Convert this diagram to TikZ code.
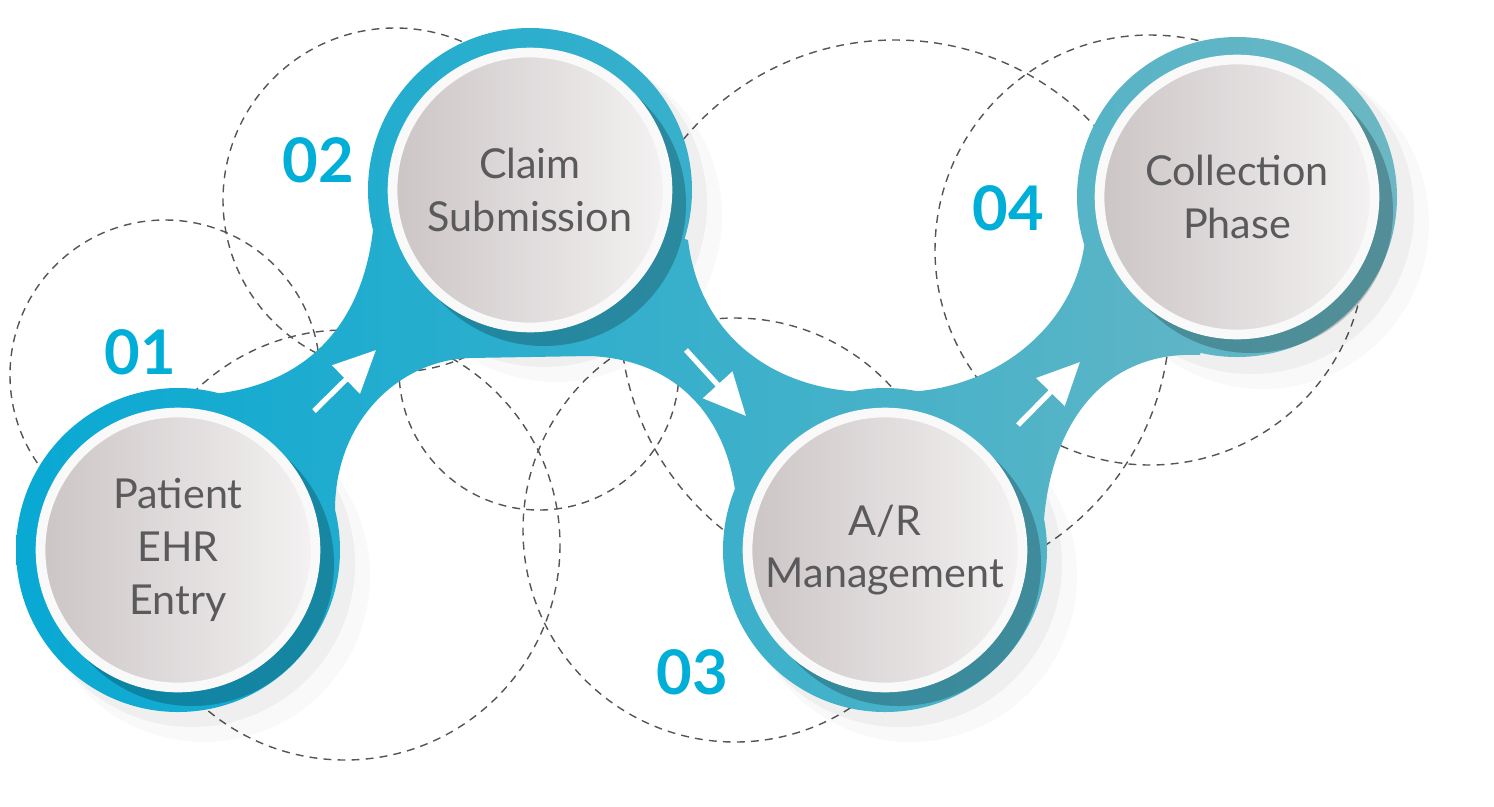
\documentclass[tikz,border=0pt]{standalone}
\usepackage{fontspec}
\setmainfont{Lato}
\usetikzlibrary{arrows.meta}
\definecolor{tA}{HTML}{08A9D3}
\definecolor{tB}{HTML}{6CB7C3}
\definecolor{num}{HTML}{00AFD8}
\definecolor{txt}{HTML}{5A5A5C}
\definecolor{gL}{HTML}{CCC5C6}
\definecolor{gR}{HTML}{F4F2F2}
\definecolor{dsh}{HTML}{555555}
\tikzset{
  dcirc/.style={draw=dsh, line width=0.8pt, dash pattern=on 4.5pt off 3.5pt},
  disc/.style={circle, minimum size=5.5cm, inner sep=0pt, left color=gL, right color=gR,
     draw=white!95!gray, line width=5.5pt, text=txt, align=center,
     font=\fontsize{23.5}{30}\selectfont},
  num/.style={text=num, font=\fontsize{35}{35}\selectfont\bfseries},
  arr/.style={draw=white, line width=3pt, -{Triangle[length=24pt,width=22pt]}},
}
\begin{document}
\begin{tikzpicture}[x=0.02cm,y=-0.02cm]
\useasboundingbox (0,0) rectangle (1494,806);
% dashed background circles
\draw[dcirc] (165,375) circle (155);
\draw[dcirc] (395,200) circle (172);
\draw[dcirc] (539,370) circle (140);
\draw[dcirc] (345,545) circle (215);
\draw[dcirc] (735,530) circle (212);
\draw[dcirc] (895,315) circle (275);
\draw[dcirc] (1150,250) circle (215);
% soft shadows
\foreach \cx/\cy in {178/550,530/190,885/550,1237/197}{
  \fill[black,opacity=0.025] (\cx+26,\cy+26) circle (166);
  \fill[black,opacity=0.04] (\cx+14,\cy+14) circle (163);
}
% teal band
\shade[left color=tA, right color=tB]
  (178,550) circle (162)
  (530,190) circle (162)
  (885,550) circle (162)
  (1237,197) circle (160)
  (200,395) .. controls (300,390) and (365,330) .. (374,220) -- (530,190)
     -- (470,358) .. controls (400,360) and (335,420) .. (335,510) -- (178,550) -- cycle
  (688,240) .. controls (700,340) and (780,395) .. (880,392) -- (885,550)
     -- (735,490) .. controls (725,420) and (680,360) .. (590,356) -- (470,358) -- (530,190) -- cycle
  (900,392) .. controls (990,392) and (1075,330) .. (1085,240) -- (1237,197)
     -- (1200,355) .. controls (1100,350) and (1045,430) .. (1043,540) -- (885,550) -- cycle;
% inner shadows on rings
\foreach \cx/\cy in {178/550,530/190,885/550,1237/197}{
  \begin{scope}
    \clip (\cx,\cy) circle (162);
    \fill[black,opacity=0.22] (\cx+14,\cy+14) circle (142);
  \end{scope}
}
% discs
\node[disc] (c1) at (178,550) {Patient\\EHR\\Entry};
\node[disc] (c2) at (530,190) {Claim\\Submission};
\node[disc] (c3) at (885,550) {A/R\\Management};
\node[disc] (c4) at (1237,197) {Collection\\Phase};
% numbers
\node[num] (n1) at (140,352) {01};
\node[num] (n2) at (318,160) {02};
\node[num] (n3) at (692,672) {03};
\node[num] (n4) at (1008,208) {04};
% arrows
\coordinate (a1s) at (314,411); \coordinate (a1e) at (376,350);
\coordinate (a2s) at (686,350); \coordinate (a2e) at (746,416);
\coordinate (a3s) at (1018,425); \coordinate (a3e) at (1080,362);
\draw[arr] (a1s) -- (a1e);
\draw[arr] (a2s) -- (a2e);
\draw[arr] (a3s) -- (a3e);
\end{tikzpicture}
\end{document}
